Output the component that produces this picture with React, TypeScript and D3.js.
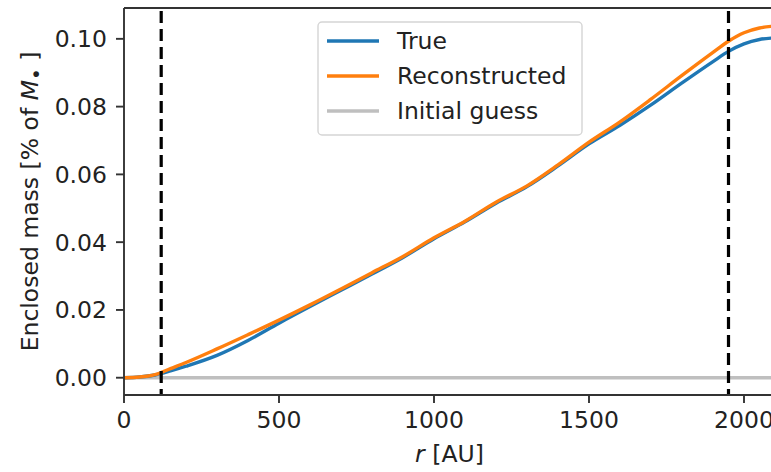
import React from 'react';
import * as d3 from 'd3';

const radii = [0, 50, 100, 150, 200, 300, 400, 500, 600, 700, 800, 900, 1000, 1100, 1200, 1300, 1400, 1500, 1600, 1700, 1800, 1900, 1950, 2000, 2050, 2100];
const trueMass = [0, 0.0002, 0.0008, 0.002, 0.0034, 0.0066, 0.011, 0.0161, 0.021, 0.0258, 0.0306, 0.0355, 0.041, 0.046, 0.0515, 0.0564, 0.0625, 0.069, 0.0745, 0.0805, 0.087, 0.0933, 0.0963, 0.0985, 0.0998, 0.1003];
const reconMass = [0, 0.0002, 0.0009, 0.0027, 0.0045, 0.0085, 0.0127, 0.017, 0.0215, 0.0262, 0.031, 0.0358, 0.0413, 0.0462, 0.0518, 0.0566, 0.0628, 0.0695, 0.0755, 0.0822, 0.0892, 0.096, 0.0993, 0.1018, 0.1032, 0.1038];
const initialGuess = radii.map(() => 0);
const dashedAt = [120, 1950];
const xTicks = [0, 500, 1000, 1500, 2000];
const yTicks = [0, 0.02, 0.04, 0.06, 0.08, 0.1];
const legendItems = [
  { label: 'True', color: '#1f77b4' },
  { label: 'Reconstructed', color: '#ff7f0e' },
  { label: 'Initial guess', color: '#bfbfbf' },
];

const W = 771;
const H = 472;
const margin = { top: 8, right: -4, bottom: 77, left: 124 };
const font = 'DejaVu Sans, sans-serif';

export default function App() {
  const x = d3.scaleLinear().domain([0, 2100]).range([margin.left, W - margin.right]);
  const y = d3.scaleLinear().domain([-0.0051, 0.1091]).range([H - margin.bottom, margin.top]);

  const line = d3.line<number>()
    .x((_, i) => x(radii[i]))
    .y(d => y(d))
    .curve(d3.curveMonotoneX);

  const x0 = margin.left;
  const x1 = W - margin.right;
  const yTop = margin.top;
  const yBot = H - margin.bottom;

  return (
    <svg width={W} height={H} style={{ position: 'absolute', left: 0, top: 0 }} fontFamily={font}>
      <defs>
        <clipPath id="plot">
          <rect x={x0} y={yTop} width={x1 - x0} height={yBot - yTop} />
        </clipPath>
      </defs>
      <rect width={W} height={H} fill="#fff" />

      <g clipPath="url(#plot)" fill="none" strokeLinecap="square">
        <path d={line(initialGuess) ?? ''} stroke="#bfbfbf" strokeWidth={3.4} />
        <path d={line(trueMass) ?? ''} stroke="#1f77b4" strokeWidth={3.4} />
        <path d={line(reconMass) ?? ''} stroke="#ff7f0e" strokeWidth={3.4} />
        {dashedAt.map(r => (
          <line key={r} x1={x(r)} x2={x(r)} y1={y(0.1082)} y2={yBot} stroke="#000"
            strokeWidth={3.2} strokeDasharray="12,6" strokeLinecap="butt" />
        ))}
      </g>

      {/* spines */}
      <g stroke="#333" strokeWidth={1.9} fill="none">
        <line x1={x0} x2={x0} y1={yTop} y2={yBot} />
        <line x1={x0} x2={x1} y1={yBot} y2={yBot} />
        <line x1={x0} x2={x1} y1={yTop} y2={yTop} />
      </g>

      {/* x axis */}
      {xTicks.map(t => (
        <g key={t} transform={`translate(${x(t)},${yBot})`}>
          <line y2={8} stroke="#333" strokeWidth={1.9} />
          <text y={33} textAnchor="middle" fontSize={23.5} fill="#222">{t}</text>
        </g>
      ))}
      <text x={(x0 + x1) / 2} y={462} textAnchor="middle" fontSize={23.5} fill="#222">
        <tspan fontStyle="italic">r</tspan> [AU]
      </text>

      {/* y axis */}
      {yTicks.map(t => (
        <g key={t} transform={`translate(${x0},${y(t)})`}>
          <line x2={-8} stroke="#333" strokeWidth={1.9} />
          <text x={-17} dy="0.36em" textAnchor="end" fontSize={23.5} fill="#222">{t.toFixed(2)}</text>
        </g>
      ))}
      <text transform={`translate(38,${(yTop + yBot) / 2}) rotate(-90)`} textAnchor="middle" fontSize={23.5} fill="#222">
        Enclosed mass [% of <tspan fontStyle="italic">M</tspan><tspan dy={5} fontSize={20}>•</tspan><tspan dy={-5}> ]</tspan>
      </text>

      {/* legend */}
      <g>
        <rect x={318} y={22} width={264} height={113} rx={4} fill="#fff" fillOpacity={0.8} stroke="#d5d5d5" strokeWidth={1.4} />
        {legendItems.map((d, i) => (
          <g key={d.label} transform={`translate(0,${41 + i * 35})`}>
            <line x1={327} x2={379} stroke={d.color} strokeWidth={3.4} />
            <text x={397} dy="0.36em" fontSize={23.5} fill="#222">{d.label}</text>
          </g>
        ))}
      </g>
    </svg>
  );
}
